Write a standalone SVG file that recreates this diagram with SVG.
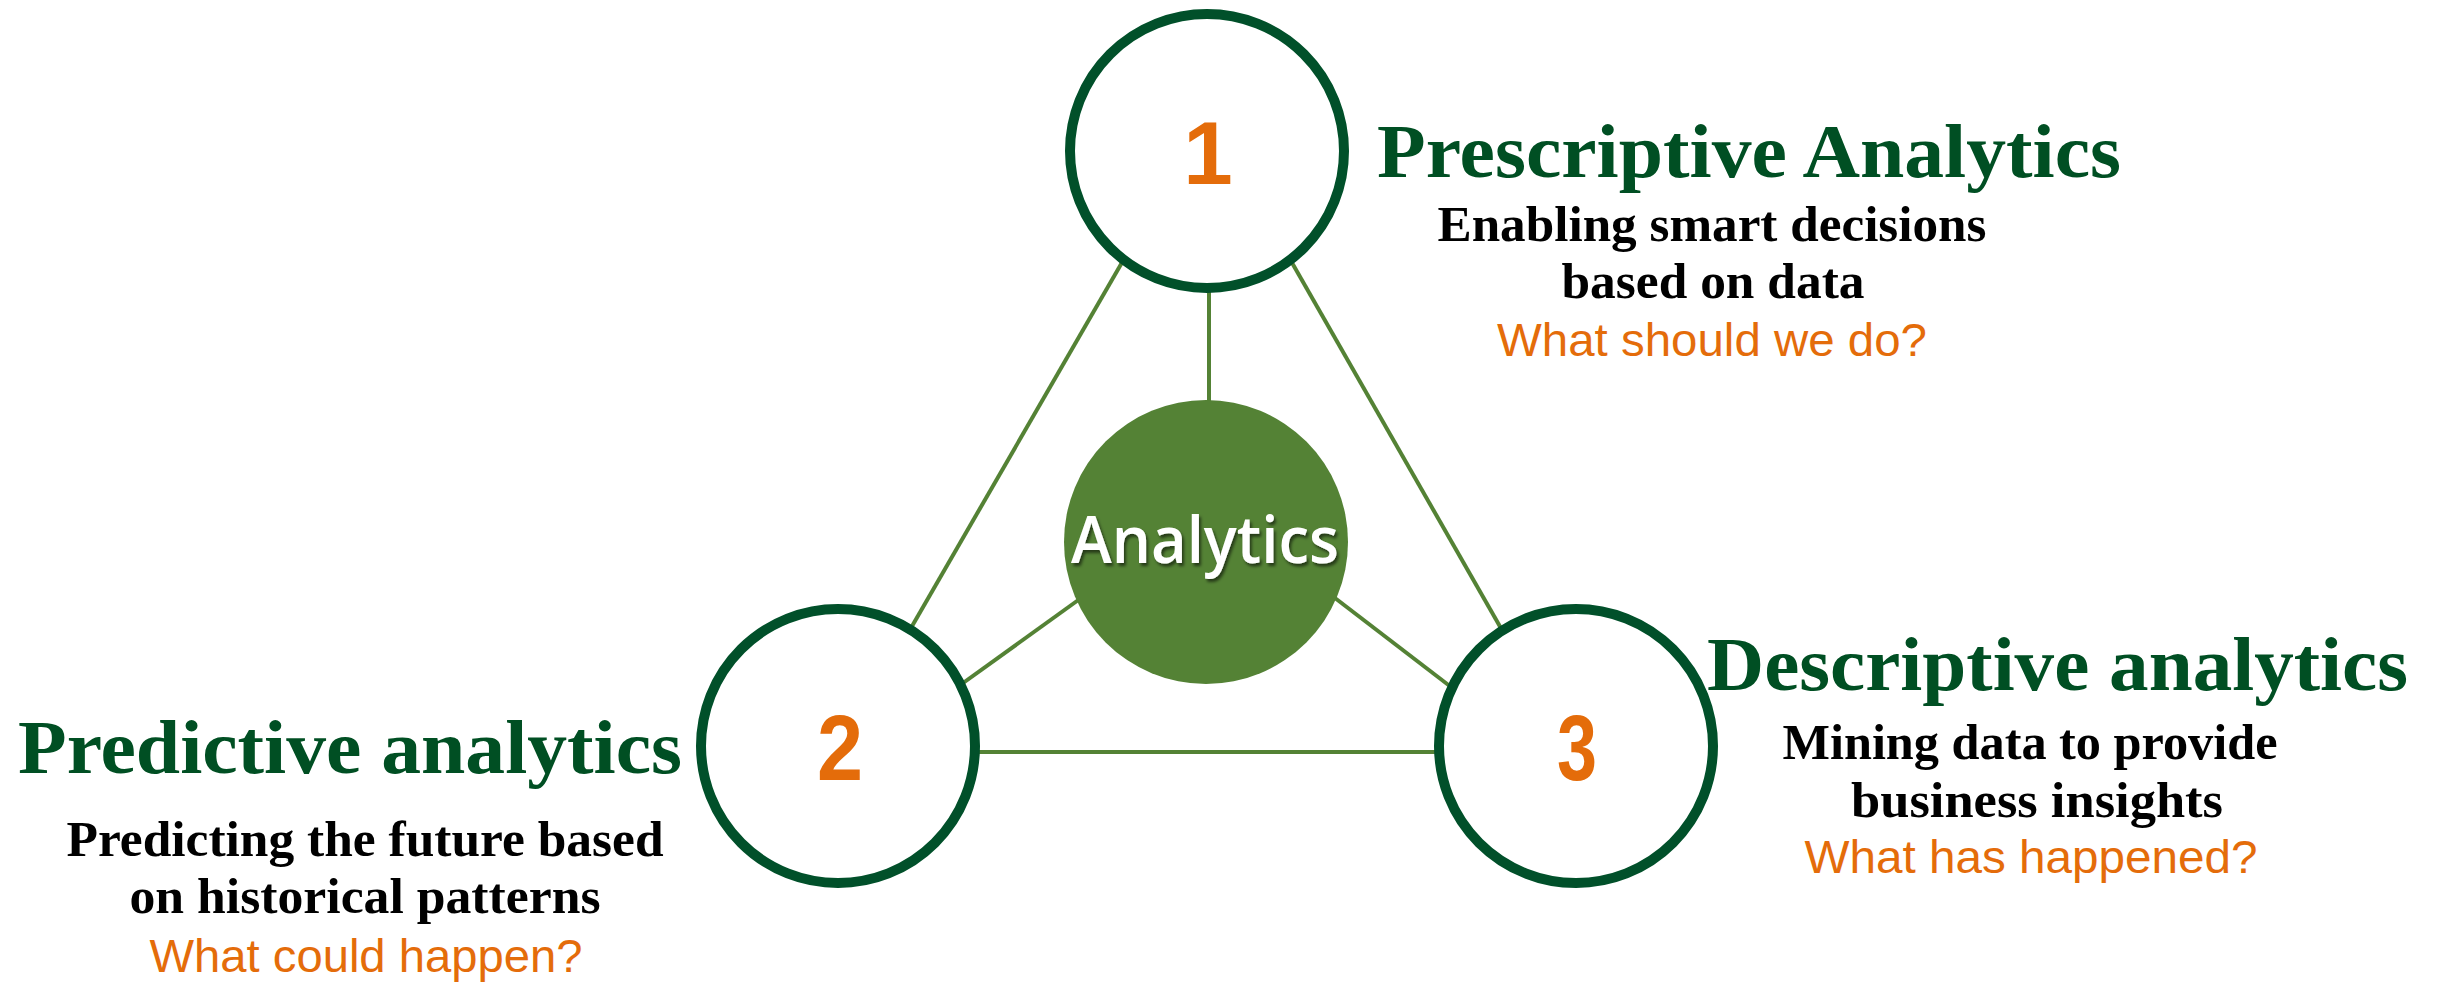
<svg xmlns="http://www.w3.org/2000/svg" width="2438" height="983" viewBox="0 0 2438 983">
<defs>
<style>
.ring{fill:#ffffff;stroke:#01502A;stroke-width:10}
.link{stroke:#548235;stroke-width:4;fill:none}
.num{font-family:"Liberation Sans",Arial,sans-serif;fill:#E46C0A;text-anchor:middle}
.head{font-family:"Liberation Serif","Times New Roman",serif;font-weight:bold;fill:#004F23;font-size:77px}
.sub{font-family:"Liberation Serif","Times New Roman",serif;font-weight:bold;fill:#000000;font-size:50px;text-anchor:middle}
.q{font-family:"Liberation Sans",Arial,sans-serif;fill:#E46C0A;font-size:46px;text-anchor:middle}
</style>
<filter id="shadow" x="-10%" y="-20%" width="130%" height="150%">
<feDropShadow dx="2" dy="3" stdDeviation="1.5" flood-color="#000000" flood-opacity="0.55"/>
</filter>
</defs>
<rect width="2438" height="983" fill="#ffffff"/>
<g id="connectors">
<line class="link" x1="1135" y1="240" x2="900" y2="647"/>
<line class="link" x1="1279" y1="240" x2="1514" y2="651"/>
<line class="link" x1="1209" y1="280" x2="1209" y2="420"/>
<line class="link" x1="1095" y1="588" x2="945" y2="696"/>
<line class="link" x1="1318" y1="585" x2="1468" y2="700"/>
<line class="link" x1="960" y1="752" x2="1455" y2="752" stroke-width="5"/>
</g>
<g id="node-analytics">
<circle cx="1206" cy="542" r="142" fill="#548235"/>
<text x="1205" y="563" font-family="'Open Sans','Liberation Sans',sans-serif" font-weight="600" font-size="66" fill="#ffffff" text-anchor="middle" textLength="268" lengthAdjust="spacingAndGlyphs" filter="url(#shadow)">Analytics</text>
</g>
<g id="node-1">
<circle class="ring" cx="1207" cy="151" r="137"/>
<text class="num" x="1208" y="184" font-size="89" font-weight="bold">1</text>
<text class="head" x="1377" y="177" textLength="744" lengthAdjust="spacingAndGlyphs">Prescriptive Analytics</text>
<text class="sub" x="1712" y="241" textLength="549" lengthAdjust="spacingAndGlyphs">Enabling smart decisions</text>
<text class="sub" x="1713" y="298" textLength="303" lengthAdjust="spacingAndGlyphs">based on data</text>
<text class="q" x="1712" y="356" textLength="430" lengthAdjust="spacingAndGlyphs">What should we do?</text>
</g>
<g id="node-2">
<circle class="ring" cx="838" cy="746" r="137"/>
<text class="num" x="840" y="780" font-size="92" font-weight="bold" textLength="46" lengthAdjust="spacingAndGlyphs">2</text>
<text class="head" x="18" y="773" textLength="664" lengthAdjust="spacingAndGlyphs">Predictive analytics</text>
<text class="sub" x="365" y="856" textLength="597" lengthAdjust="spacingAndGlyphs">Predicting the future based</text>
<text class="sub" x="365" y="913" textLength="471" lengthAdjust="spacingAndGlyphs">on historical patterns</text>
<text class="q" x="366" y="972" textLength="433" lengthAdjust="spacingAndGlyphs">What could happen?</text>
</g>
<g id="node-3">
<circle class="ring" cx="1576" cy="746" r="137"/>
<text class="num" x="1577" y="780" font-size="92" font-weight="bold" textLength="40" lengthAdjust="spacingAndGlyphs">3</text>
<text class="head" x="1707" y="690" textLength="701" lengthAdjust="spacingAndGlyphs">Descriptive analytics</text>
<text class="sub" x="2030" y="759" textLength="495" lengthAdjust="spacingAndGlyphs">Mining data to provide</text>
<text class="sub" x="2037" y="817" textLength="372" lengthAdjust="spacingAndGlyphs">business insights</text>
<text class="q" x="2031" y="873" textLength="453" lengthAdjust="spacingAndGlyphs">What has happened?</text>
</g>
</svg>
